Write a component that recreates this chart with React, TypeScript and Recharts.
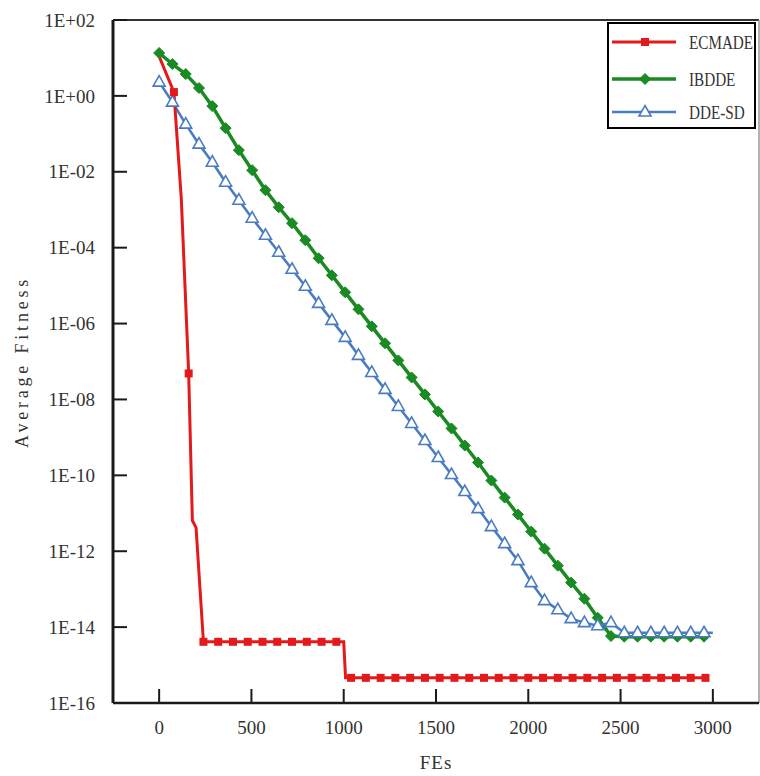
import React from 'react';
import { LineChart, Line, XAxis, YAxis, ReferenceLine, Legend } from 'recharts';

// ---------- data ----------
const xTicks = [0, 500, 1000, 1500, 2000, 2500, 3000];
const yTicks = [1e2, 1e0, 1e-2, 1e-4, 1e-6, 1e-8, 1e-10, 1e-12, 1e-14, 1e-16];

const ecmadeFEs = [
  0, 80, 120, 160, 180, 200, 240, 320, 400, 480, 560, 640, 720, 800, 880, 960, 1000, 1010,
  1040, 1120, 1200, 1280, 1360, 1440, 1520, 1600, 1680, 1760, 1840, 1920, 2000, 2080, 2160,
  2240, 2320, 2400, 2480, 2560, 2640, 2720, 2800, 2880, 2960,
];
const ecmadeValues = [
  11.0, 1.26, 2.0e-3, 4.85e-8, 6.45e-12, 4.2e-12, 4.1e-15, 4.1e-15, 4.1e-15, 4.1e-15, 4.1e-15,
  4.1e-15, 4.1e-15, 4.1e-15, 4.1e-15, 4.1e-15, 4.1e-15, 4.6e-16, 4.6e-16, 4.6e-16, 4.6e-16,
  4.6e-16, 4.6e-16, 4.6e-16, 4.6e-16, 4.6e-16, 4.6e-16, 4.6e-16, 4.6e-16, 4.6e-16, 4.6e-16,
  4.6e-16, 4.6e-16, 4.6e-16, 4.6e-16, 4.6e-16, 4.6e-16, 4.6e-16, 4.6e-16, 4.6e-16, 4.6e-16,
  4.6e-16, 4.6e-16,
];

const ibddeFEs = [
  0, 72, 144, 216, 288, 360, 432, 504, 576, 648, 720, 792, 864, 936, 1008, 1080, 1152, 1224,
  1296, 1368, 1440, 1512, 1584, 1656, 1728, 1800, 1872, 1944, 2016, 2088, 2160, 2232, 2304,
  2376, 2448, 2520, 2592, 2664, 2736, 2808, 2880, 2952,
];
const ibddeValues = [
  13.5, 6.9, 3.76, 1.61, 0.538, 0.141, 0.0372, 0.011, 3.27e-3, 1.16e-3,
  4.41e-4, 1.57e-4, 5.25e-5, 1.87e-5, 6.65e-6, 2.37e-6, 8.43e-7, 3.01e-7, 1.07e-7, 3.8e-8,
  1.36e-8, 4.82e-9, 1.72e-9, 6.11e-10, 2.18e-10, 7.3e-11, 2.59e-11, 9.25e-12, 3.29e-12, 1.17e-12,
  4.17e-13, 1.49e-13, 5.61e-14, 1.77e-14, 5.8e-15, 5.6e-15, 5.6e-15, 5.6e-15, 5.6e-15, 5.6e-15,
  5.6e-15, 5.6e-15,
];

const ddesdFEs = [
  0, 72, 144, 216, 288, 360, 432, 504, 576, 648, 720, 792, 864, 936, 1008, 1080, 1152, 1224,
  1296, 1368, 1440, 1512, 1584, 1656, 1728, 1800, 1872, 1944, 2016, 2088, 2160, 2232, 2304,
  2376, 2448, 2520, 2592, 2664, 2736, 2808, 2880, 2952, 3000,
];
const ddesdValues = [
  2.31, 0.686, 0.18, 0.0535, 0.0179, 5.32e-3, 1.78e-3, 5.97e-4, 2.12e-4, 7.57e-5,
  2.69e-5, 9.59e-6, 3.41e-6, 1.21e-6, 4.33e-7, 1.45e-7, 5.15e-8, 1.84e-8, 6.53e-9, 2.33e-9,
  8.28e-10, 2.95e-10, 1.05e-10, 3.74e-11, 1.33e-11, 4.46e-12, 1.59e-12, 5.65e-13, 1.49e-13, 4.98e-14,
  2.88e-14, 1.67e-14, 1.31e-14, 1.09e-14, 1.31e-14, 7.1e-15, 7.1e-15, 7.1e-15, 7.1e-15, 7.1e-15,
  7.1e-15, 7.1e-15, 7.1e-15,
];

// ---------- styling ----------
const FONT = '"Liberation Serif", "Times New Roman", serif';
const TEXT = '#333';
const AXIS = '#1a1a1a';
const RED = '#e31a1c';
const GREEN = '#1a8a22';
const BLUE = '#4a7cc2';

const toRows = (fes: number[], vals: number[]) => fes.map((fe, i) => ({ fe, v: vals[i] }));
const ecmadeData = toRows(ecmadeFEs, ecmadeValues);
const ibddeData = toRows(ibddeFEs, ibddeValues);
const ddesdData = toRows(ddesdFEs, ddesdValues);

type Shape = 'square' | 'diamond' | 'triangle';

function Marker({ shape, cx, cy, color }: { shape: Shape; cx: number; cy: number; color: string }) {
  if (shape === 'square') {
    return <rect x={cx - 4} y={cy - 4} width={8} height={8} fill={color} />;
  }
  if (shape === 'diamond') {
    return (
      <polygon
        points={`${cx},${cy - 5.5} ${cx + 5.5},${cy} ${cx},${cy + 5.5} ${cx - 5.5},${cy}`}
        fill={color}
        stroke={color}
        strokeWidth={1}
      />
    );
  }
  return (
    <polygon
      points={`${cx},${cy - 6.5} ${cx + 6},${cy + 4} ${cx - 6},${cy + 4}`}
      fill="#fff"
      stroke={color}
      strokeWidth={1.6}
    />
  );
}

const makeDot = (shape: Shape, color: string, every: number, skipZero: boolean) => (p: any) => {
  const fe = p.payload?.fe ?? 0;
  const show = fe % every === 0 && !(skipZero && fe === 0);
  if (!show || p.cx == null || p.cy == null) return <g key={`d-${p.index}`} />;
  return (
    <g key={`d-${p.index}`}>
      <Marker shape={shape} cx={p.cx} cy={p.cy} color={color} />
    </g>
  );
};

const fmtExp = (v: number) => {
  const e = Math.round(Math.log10(v));
  const s = e >= 0 ? '+' : '-';
  return `1E${s}${String(Math.abs(e)).padStart(2, '0')}`;
};

const XTick = (props: any) => {
  const { x, y, payload } = props;
  return (
    <g>
      <line x1={x} y1={y} x2={x} y2={y - 14} stroke={AXIS} strokeWidth={2} />
      <text x={x} y={y + 24} dy="0.35em" textAnchor="middle" fontFamily={FONT} fontSize={19} fill={TEXT}>
        {payload.value}
      </text>
    </g>
  );
};

const YTick = (props: any) => {
  const { x, y, payload } = props;
  return (
    <g>
      <line x1={x} y1={y} x2={x + 14} y2={y} stroke={AXIS} strokeWidth={2} />
      <text x={x - 18} y={y} dy="0.35em" textAnchor="end" fontFamily={FONT} fontSize={19} fill={TEXT}>
        {fmtExp(payload.value)}
      </text>
    </g>
  );
};

const legendItems: { name: string; color: string; shape: Shape; width: number }[] = [
  { name: 'ECMADE', color: RED, shape: 'square', width: 3 },
  { name: 'IBDDE', color: GREEN, shape: 'diamond', width: 3.5 },
  { name: 'DDE-SD', color: BLUE, shape: 'triangle', width: 2.6 },
];
const legendRowY = [18, 55, 88];

function LegendBox() {
  return (
    <div style={{ width: 145, height: 103, border: '2px solid #000', background: '#fff' }}>
      <svg width={145} height={103} style={{ display: 'block' }}>
        {legendItems.map((it, i) => (
          <g key={it.name}>
            <line x1={3} y1={legendRowY[i]} x2={67} y2={legendRowY[i]} stroke={it.color} strokeWidth={it.width} />
            <Marker shape={it.shape} cx={36} cy={legendRowY[i]} color={it.color} />
            <text
              transform={`translate(80,${legendRowY[i]}) scale(0.8,1)`}
              dy="0.35em"
              fontFamily={FONT}
              fontSize={19}
              fill={TEXT}
            >
              {it.name}
            </text>
          </g>
        ))}
      </svg>
    </div>
  );
}

const YLabel = () => (
  <text
    transform="translate(22,362) rotate(-90)"
    textAnchor="middle"
    dy="0.35em"
    fontFamily={FONT}
    fontSize={18}
    letterSpacing={3.8}
    fill={TEXT}
  >
    Average Fitness
  </text>
);

const XLabel = () => (
  <text x={436} y={762} dy="0.35em" textAnchor="middle" fontFamily={FONT} fontSize={19} letterSpacing={1} fill={TEXT}>
    FEs
  </text>
);

export default function App() {
  return (
    <div style={{ position: 'absolute', left: 0, top: 0, width: 760, height: 776, background: '#fff' }}>
      <LineChart width={760} height={776} margin={{ top: 20, right: 1, left: 0, bottom: 0 }}>
        <XAxis
          dataKey="fe"
          type="number"
          domain={[-250, 3250]}
          ticks={xTicks}
          allowDataOverflow
          height={73}
          tickSize={0}
          tickMargin={0}
          tickLine={false}
          tick={<XTick />}
          axisLine={{ stroke: AXIS, strokeWidth: 2.5 }}
          label={{ content: () => <XLabel /> }}
        />
        <YAxis
          type="number"
          scale="log"
          domain={[1e-16, 1e2]}
          ticks={yTicks}
          allowDataOverflow
          width={113}
          tickSize={0}
          tickMargin={0}
          tickLine={false}
          tick={<YTick />}
          axisLine={{ stroke: AXIS, strokeWidth: 3 }}
          label={{ content: () => <YLabel /> }}
        />
        <ReferenceLine y={1e2} stroke="#333" strokeWidth={2} />
        <ReferenceLine x={3250} stroke="#999" strokeWidth={1.5} />
        <Line
          data={ibddeData}
          dataKey="v"
          name="IBDDE"
          stroke={GREEN}
          strokeWidth={3.5}
          dot={makeDot('diamond', GREEN, 72, false)}
          activeDot={false}
          isAnimationActive={false}
        />
        <Line
          data={ddesdData}
          dataKey="v"
          name="DDE-SD"
          stroke={BLUE}
          strokeWidth={2.6}
          dot={makeDot('triangle', BLUE, 72, false)}
          activeDot={false}
          isAnimationActive={false}
        />
        <Line
          data={ecmadeData}
          dataKey="v"
          name="ECMADE"
          stroke={RED}
          strokeWidth={3}
          dot={makeDot('square', RED, 80, true)}
          activeDot={false}
          isAnimationActive={false}
        />
        <Legend
          layout="vertical"
          align="center"
          verticalAlign="middle"
          wrapperStyle={{ left: 607, top: 22, width: 149, height: 107 }}
          content={() => <LegendBox />}
        />
      </LineChart>
    </div>
  );
}
